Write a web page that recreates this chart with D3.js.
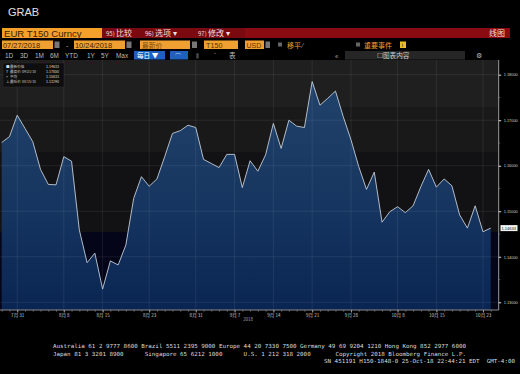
<!DOCTYPE html>
<html>
<head>
<meta charset="utf-8">
<script src="https://cdn.jsdelivr.net/npm/d3@7"></script>
<style>
  html, body { margin: 0; padding: 0; background: #000; }
  svg { display: block; }
  text { font-family: "Noto Sans CJK SC", "Noto Sans", sans-serif; }
</style>
</head>
<body>
<svg id="chart" width="520" height="374"></svg>
<script>
// trading days 07/27/2018 - 10/24/2018
const dates = [
  '07/27', '07/30', '07/31',
  '08/01', '08/02', '08/03', '08/06', '08/07', '08/08', '08/09', '08/10', '08/13', '08/14', '08/15',
  '08/16', '08/17', '08/20', '08/21', '08/22', '08/23', '08/24', '08/27', '08/28', '08/29', '08/30', '08/31',
  '09/03', '09/04', '09/05', '09/06', '09/07', '09/10', '09/11', '09/12', '09/13', '09/14', '09/17', '09/18',
  '09/19', '09/20', '09/21', '09/24', '09/25', '09/26', '09/27', '09/28',
  '10/01', '10/02', '10/03', '10/04', '10/05', '10/08', '10/09', '10/10', '10/11', '10/12', '10/15', '10/16',
  '10/17', '10/18', '10/19', '10/22', '10/23', '10/24'
];
const prices = [
  1.1651, 1.1664, 1.1711, 1.1682, 1.1653, 1.1592, 1.1559, 1.1558, 1.1620, 1.1610,
  1.1459, 1.1387, 1.1408, 1.1329, 1.1391, 1.1382, 1.1426, 1.1528, 1.1576, 1.1555,
  1.1571, 1.1620, 1.1671, 1.1677, 1.1689, 1.1684, 1.1614, 1.1605, 1.1596, 1.1625,
  1.1625, 1.1552, 1.1611, 1.1588, 1.1624, 1.1693, 1.1638, 1.1700, 1.1687, 1.1684,
  1.1785, 1.1733, 1.1748, 1.1764, 1.1708, 1.1657, 1.1598, 1.1548, 1.1586, 1.1476,
  1.1499, 1.1510, 1.1497, 1.1512, 1.1554, 1.1592, 1.1553, 1.1571, 1.1556, 1.1492,
  1.1463, 1.1512, 1.1455, 1.1463
];
const xTickDates = ['07/31', '08/08', '08/15', '08/23', '08/31', '09/07', '09/14', '09/21', '09/28', '10/08', '10/15', '10/23'];
const xTickLabels = ['7月 31', '8月 8', '8月 15', '8月 23', '8月 31', '9月 7', '9月 14', '9月 21', '9月 28', '10月 8', '10月 15', '10月 23'];
const yTicks = [1.13, 1.14, 1.15, 1.16, 1.17, 1.18];
const yMinorTicks = [1.135, 1.145, 1.155, 1.165, 1.175];
const lastLabel = '1.14633';
const legendRows = [
  ['■', '最新价格', '', '1.14633'],
  ['T', '最高价', '09/21/18', '1.17850'],
  ['+', '平均', '', '1.15833'],
  ['⊥', '最低价', '08/15/18', '1.13290']
];
const footerLines = [
  'Australia 61 2 9777 8600 Brazil 5511 2395 9000 Europe 44 20 7330 7500 Germany 49 69 9204 1210 Hong Kong 852 2977 6000',
  'Japan 81 3 3201 8900      Singapore 65 6212 1000      U.S. 1 212 318 2000       Copyright 2018 Bloomberg Finance L.P.',
  'SN 451191 H150-1848-0 25-Oct-18 22:44:21 EDT  GMT-4:00'
];

const svg = d3.select('#chart');
const plot = { left: 0, right: 498.7, top: 60, bottom: 310 };

const x = d3.scalePoint().domain(dates).range([1.7, 490.7]);
const y = d3.scaleLinear().domain([1.13, 1.18]).range([302.3, 74.7]);

function box(bx, by, w, h, fill) {
  return svg.append('rect').attr('x', bx).attr('y', by).attr('width', w).attr('height', h).attr('fill', fill);
}
function label(tx, ty, t, fill, size, fam) {
  return svg.append('text').attr('x', tx).attr('y', ty).attr('fill', fill)
    .style('font-size', size + 'px').style('font-family', fam || null).text(t);
}

// ---- header ----
label(8, 16, 'GRAB', '#e0e0e0', 11, '"Liberation Sans", sans-serif');

// row 1: security + red menu bar
box(2, 28, 508, 10, '#8a0c12');
box(102, 28, 143, 10, '#7a0a10');
box(2, 28, 100, 10, '#f5a02a');
label(4, 36.6, 'EUR T150 Curncy', '#3a1e00', 9.6, '"Liberation Sans", sans-serif');
[['95)', '比较', 106], ['96)', '选项 ▾', 145], ['97)', '修改 ▾', 198]].forEach(([n, t, px]) => {
  const g = svg.append('text').attr('x', px).attr('y', 36.4).attr('fill', '#f2dede').style('font-size', '8px');
  g.append('tspan').style('font-size', '6px').text(n + ' ');
  g.append('tspan').text(t);
});
label(489, 36.4, '线图', '#f2dede', 8);

// row 2: dates / fields
const orange = '#f0a030';
box(2, 40.5, 51, 8.5, orange); label(3, 47.8, '07/27/2018', '#3a1e00', 7.4, '"Liberation Sans", sans-serif');
box(54.5, 41.5, 5, 6.5, '#777');
label(66, 47.5, '-', '#ccc', 7);
box(74, 40.5, 51, 8.5, orange); label(75, 47.8, '10/24/2018', '#3a1e00', 7.4, '"Liberation Sans", sans-serif');
box(126.5, 41.5, 5, 6.5, '#777');
box(140, 40.5, 50, 8.5, orange); label(142, 47.6, '最新价', '#7a4a10', 6.8);
box(192, 41.5, 5, 6.5, '#777');
box(204, 40.5, 34, 8.5, orange); label(206, 47.8, 'T150', '#5a3000', 7.2, '"Liberation Sans", sans-serif');
box(245, 40.5, 19, 8.5, orange); label(246.5, 47.8, 'USD', '#5a3000', 7, '"Liberation Sans", sans-serif');
box(265.5, 41.5, 4.5, 6.5, '#777');
box(278, 42.5, 4, 4, '#666'); label(287, 47.6, '移平', orange, 7);
label(302, 47.6, '⁄', '#999', 7);
box(356, 42.5, 4, 4, '#666'); label(364, 47.6, '重要事件', orange, 7);
box(400, 41.5, 6, 6.5, '#e8c020'); label(401.8, 47.2, 'i', '#222', 6, '"Liberation Sans", sans-serif');

// row 3: periods / tools
[['1D', 5], ['3D', 20], ['1M', 35], ['6M', 50], ['YTD', 65], ['1Y', 87], ['5Y', 101], ['Max', 116]].forEach(([t, px]) => {
  label(px, 58, t, '#bcbcbc', 6.4, '"Liberation Sans", sans-serif');
});
box(134, 51, 31, 8.5, '#1f5fc0'); label(137, 58.2, '每日 ▼', '#fff', 6.6);
box(170, 51, 18, 8.5, '#1f5fc0'); label(175, 58, '⌒', '#bcd', 6);
label(196, 58, '⫼', '#999', 6);
label(214, 57, '˟', '#999', 6);
label(229, 58, '表', '#bbb', 6.6);
label(335, 58, '«', '#bbb', 7);
box(345, 51, 120, 8.5, '#262626');
label(377, 58, '☐图表内容', '#ccc', 6.6);
label(476, 58, '⚙', '#bbb', 6.6);

// ---- plot background bands ----
const bands = [
  { y0: 60, y1: 107, c: '#1f1f1f' },
  { y0: 107, y1: 152, c: '#191919' },
  { y0: 152, y1: 232, c: '#121214' },
  { y0: 232, y1: 310, c: '#05051a' }
];
svg.append('g').selectAll('rect').data(bands).join('rect')
  .attr('x', plot.left).attr('width', plot.right - plot.left)
  .attr('y', d => d.y0).attr('height', d => d.y1 - d.y0).attr('fill', d => d.c);

// area gradient
const defs = svg.append('defs');
const grad = defs.append('linearGradient').attr('id', 'areaFill')
  .attr('gradientUnits', 'userSpaceOnUse').attr('x1', 0).attr('x2', 0).attr('y1', 80).attr('y2', plot.bottom);
grad.append('stop').attr('offset', '0%').attr('stop-color', '#21436b');
grad.append('stop').attr('offset', '55%').attr('stop-color', '#163560');
grad.append('stop').attr('offset', '100%').attr('stop-color', '#0a2552');

const series = dates.map((d, i) => ({ date: d, value: prices[i] }));

svg.append('path').datum(series)
  .attr('fill', 'url(#areaFill)')
  .attr('d', d3.area().x(d => x(d.date)).y0(plot.bottom).y1(d => y(d.value)));

// grid
const grid = svg.append('g').attr('stroke', '#ffffff').attr('stroke-opacity', 0.13).attr('stroke-width', 0.6);
grid.selectAll('line.h').data(yTicks).join('line').attr('class', 'h')
  .attr('x1', plot.left).attr('x2', plot.right).attr('y1', d => y(d)).attr('y2', d => y(d));
grid.selectAll('line.v').data(xTickDates).join('line').attr('class', 'v')
  .attr('x1', d => x(d)).attr('x2', d => x(d)).attr('y1', plot.top).attr('y2', plot.bottom);

// price line
svg.append('path').datum(series)
  .attr('fill', 'none').attr('stroke', '#c4ccd6').attr('stroke-width', 0.9)
  .attr('d', d3.line().x(d => x(d.date)).y(d => y(d.value)));

// ---- x axis ----
const xAxis = svg.append('g').attr('transform', `translate(0,${plot.bottom})`)
  .call(d3.axisBottom(x).tickValues(dates).tickSize(1.5).tickFormat(''));
xAxis.select('.domain').attr('stroke', '#8a8a8a').attr('d', `M${plot.left},0H${plot.right}`);
xAxis.selectAll('.tick line').attr('stroke', '#777');
const xLabels = svg.append('g').attr('transform', `translate(0,${plot.bottom})`)
  .call(d3.axisBottom(x).tickValues(xTickDates).tickSize(2.5)
    .tickFormat(d => xTickLabels[xTickDates.indexOf(d)]));
xLabels.select('.domain').remove();
xLabels.selectAll('.tick line').attr('stroke', '#999');
xLabels.selectAll('.tick text').attr('fill', '#c8c8c8').attr('dy', '0.25em')
  .style('font-size', '4.6px').style('font-family', '"Noto Sans CJK SC", sans-serif');
label(248, 321, '2018', '#aaa', 4.4).attr('text-anchor', 'middle');

// ---- y axis (right) ----
const yAxis = svg.append('g').attr('transform', `translate(${plot.right},0)`)
  .call(d3.axisRight(y).tickValues(yTicks).tickSize(2.5).tickPadding(2.5).tickFormat(d3.format('.5f')));
yAxis.select('.domain').attr('stroke', '#9a9a9a').attr('d', `M0,${plot.top}V${plot.bottom}`);
yAxis.selectAll('.tick line').attr('stroke', '#ddd');
yAxis.selectAll('.tick text').attr('fill', '#d0d0d0')
  .style('font-size', '3.9px').style('font-family', '"Liberation Sans", sans-serif');
svg.append('g').selectAll('line').data(yMinorTicks).join('line')
  .attr('x1', plot.right).attr('x2', plot.right + 1.5)
  .attr('y1', d => y(d)).attr('y2', d => y(d)).attr('stroke', '#888').attr('stroke-width', 0.6);

// last value tag
const lastY = y(prices[prices.length - 1]);
box(500.5, lastY - 3, 17, 6, '#f4f4f4');
label(501.5, lastY + 1.5, lastLabel, '#111', 4, '"Liberation Sans", sans-serif');

// ---- legend box ----
box(3, 63, 61, 24, '#0c0c0c').attr('fill-opacity', 0.85).attr('stroke', '#333').attr('stroke-width', 0.4);
legendRows.forEach((r, i) => {
  const ly = 68 + i * 5;
  label(6, ly, r[0], '#ddd', 3.6);
  label(10, ly, r[1], '#ccc', 3.6);
  label(22, ly, r[2], '#ccc', 3.4);
  label(46, ly, r[3], '#ddd', 3.6);
});

// ---- footer ----
[[53, 348, 413], [53, 355.5, 413], [324, 363, 191]].forEach(([fx, fy, len], i) => {
  label(fx, fy, footerLines[i], '#dcdcdc', 5.6, '"DejaVu Sans Mono", monospace')
    .style('white-space', 'pre')
    .attr('textLength', len).attr('lengthAdjust', 'spacingAndGlyphs');
});
</script>
</body>
</html>
